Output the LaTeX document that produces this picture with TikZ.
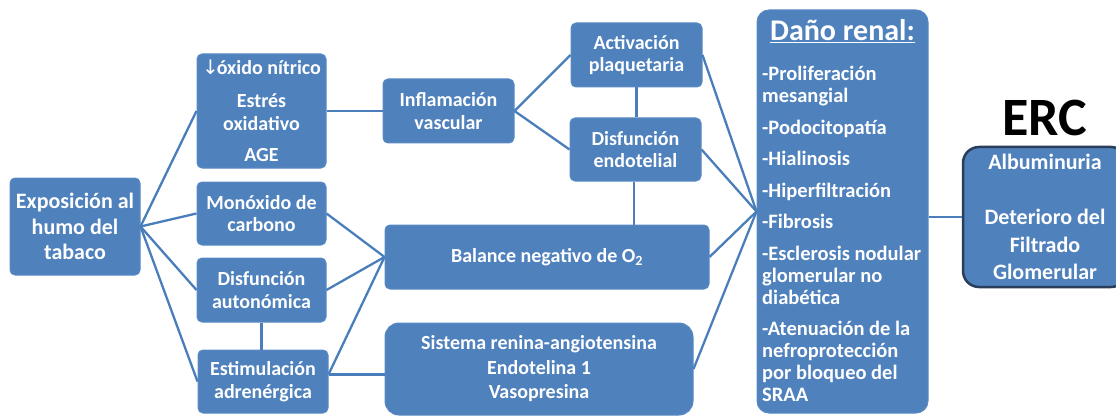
\documentclass[tikz,border=0pt]{standalone}
\usepackage{fontspec}
\setmainfont{Carlito}
\newfontfamily\arrowfont{DejaVu Sans}
\definecolor{boxblue}{HTML}{4F81BD}
\definecolor{boxedge}{HTML}{5A8AC4}
\definecolor{lineblue}{HTML}{4A7EBB}
\definecolor{ercedge}{HTML}{2A3E5A}
\tikzset{
  bx/.style={draw=boxedge, line width=1pt, fill=boxblue, rounded corners=5pt,
    text=white, font=\bfseries\fontsize{20}{22.5}\selectfont, align=center,
    inner sep=0pt},
  conn/.style={draw=lineblue, line width=2.3pt},
}
\begin{document}
\begin{tikzpicture}[x=1pt,y=-1pt]
\useasboundingbox (0,0) rectangle (1116,417);
% boxes
\node[bx, minimum width=130, minimum height=97, font=\bfseries\fontsize{22}{25.5}\selectfont] (expo) at (75,226.5) {Exposición al\\humo del\\tabaco};
\node[bx, minimum width=129, minimum height=114] (no) at (261.5,111) {{\arrowfont\mdseries ↓}\kern-2pt óxido nítrico\\[11pt]Estrés\\oxidativo\\[9pt]AGE};
\node[bx, minimum width=129, minimum height=63] (mono) at (261.5,213.5) {Monóxido de\\carbono};
\node[bx, minimum width=129, minimum height=64] (auto) at (261.5,290) {Disfunción\\autonómica};
\node[bx, minimum width=130, minimum height=63] (estim) at (263,381.5) {Estimulación\\adrenérgica};
\node[bx, minimum width=131, minimum height=64] (infl) at (448.5,111) {Inflamación\\vascular};
\node[bx, minimum width=131, minimum height=64] (activ) at (636.5,55) {Activación\\plaquetaria};
\node[bx, minimum width=131, minimum height=63] (disend) at (635.5,149.5) {Disfunción\\endotelial};
\node[bx, minimum width=324, minimum height=64] (balance) at (547,257) {Balance negativo de O\textsubscript{2}};
\node[bx, rounded corners=14pt, minimum width=308, minimum height=92, font=\bfseries\fontsize{20}{24.5}\selectfont] (sistema) at (539,369) {Sistema renina-angiotensina\\Endotelina 1\\Vasopresina};
\node[bx, rounded corners=12pt, minimum width=171, minimum height=403] (dano) at (842.5,211.5) {};
\node[text=white, font=\bfseries\fontsize{30}{34}\selectfont, inner sep=0pt] (danot) at (842.5,31) {\underline{Daño renal:}};
\node[text=white, font=\bfseries\fontsize{20.5}{22}\selectfont, align=left, anchor=west, inner sep=0pt] (danol) at (762,234)
 {-Proliferación\\mesangial\\[9.5pt]-Podocitopatía\\[9.5pt]-Hialinosis\\[9.5pt]-Hiperfiltración\\[9.5pt]-Fibrosis\\[9.5pt]-Esclerosis nodular\\glomerular no\\diabética\\[9.5pt]-Atenuación de la\\nefroprotección\\por bloqueo del\\SRAA};
\node[bx, draw=ercedge, line width=2.5pt, rounded corners=16pt, minimum width=164, minimum height=140, font=\bfseries\fontsize{22}{27.5}\selectfont] (erc) at (1045,217) {Albuminuria\\[27.5pt]Deterioro del\\Filtrado\\Glomerular};
\node[font=\bfseries\fontsize{54}{60}\selectfont, text=black, inner sep=0pt] (erct) at (1045,118) {ERC};
% connectors
\draw[conn] (expo.east) -- (no.west);
\draw[conn] (expo.east) -- (mono.west);
\draw[conn] (expo.east) -- (auto.west);
\draw[conn] (expo.east) -- (estim.west);
\draw[conn] (no.east) -- (infl.west);
\draw[conn] (infl.east) -- (activ.west);
\draw[conn] (infl.east) -- (disend.west);
\draw[conn] (activ.south) -- (activ.south |- disend.north);
\draw[conn] ([xshift=-1.5pt]disend.south) -- ([xshift=-1.5pt]disend.south |- balance.north);
\draw[conn] (mono.east) -- (balance.west);
\draw[conn] (auto.east) -- (balance.west);
\draw[conn] ([yshift=7pt]estim.east) -- (balance.west);
\draw[conn] ([yshift=7pt]estim.east) -- ([yshift=7pt]estim.east -| sistema.west);
\draw[conn] (auto.south) -- (auto.south |- estim.north);
\draw[conn] (activ.east) -- (dano.west);
\draw[conn] (disend.east) -- (dano.west);
\draw[conn] (balance.east) -- (dano.west);
\draw[conn] (sistema.east) -- (dano.west);
\draw[conn] (dano.east |- erc.west) -- (erc.west);
\end{tikzpicture}
\end{document}
